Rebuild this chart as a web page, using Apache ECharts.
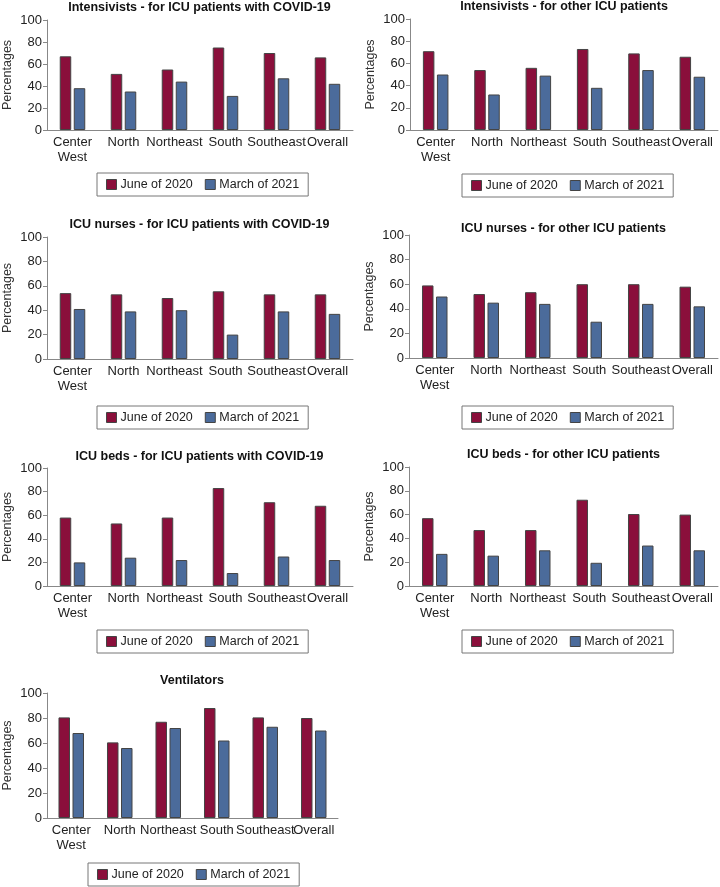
<!DOCTYPE html>
<html lang="en">
<head>
<meta charset="UTF-8">
<title>ICU resources by region</title>
<script src="https://cdn.jsdelivr.net/npm/echarts@6/dist/echarts.min.js"></script>
<style>html,body{margin:0;padding:0;background:#fff}</style>
</head>
<body>
<div id="main" style="width:720px;height:887px"></div>
<script>
// categories and values
var regions = ['Center\nWest', 'North', 'Northeast', 'South', 'Southeast', 'Overall']
var periods = ['June of 2020', 'March of 2021']
var yMin = 0, yMax = 100, yStep = 20

var intensCovidJune = [67, 51, 55, 75, 70, 66]
var intensCovidMarch = [38, 35, 44, 31, 47, 42]
var intensOtherJune = [71, 54, 56, 73, 69, 66]
var intensOtherMarch = [50, 32, 49, 38, 54, 48]
var nursesCovidJune = [54, 53, 50, 55.5, 53, 53]
var nursesCovidMarch = [41, 39, 40, 20, 39, 37]
var nursesOtherJune = [59, 52, 53.5, 60, 60, 58]
var nursesOtherMarch = [50, 45, 44, 29.5, 44, 42]
var bedsCovidJune = [58, 53, 58, 83, 71, 68]
var bedsCovidMarch = [20, 24, 22, 11, 25, 22]
var bedsOtherJune = [57, 47, 47, 72.5, 60.5, 60]
var bedsOtherMarch = [27, 25.5, 30, 19.5, 34, 30]
var ventJune = [80.5, 60.5, 77, 88, 80.5, 80]
var ventMarch = [68, 56, 72, 62, 73, 70]

var panels = [
  { title: 'Intensivists - for ICU patients with COVID-19', june: intensCovidJune, march: intensCovidMarch },
  { title: 'Intensivists - for other ICU patients', june: intensOtherJune, march: intensOtherMarch },
  { title: 'ICU nurses - for ICU patients with COVID-19', june: nursesCovidJune, march: nursesCovidMarch },
  { title: 'ICU nurses - for other ICU patients', june: nursesOtherJune, march: nursesOtherMarch },
  { title: 'ICU beds - for ICU patients with COVID-19', june: bedsCovidJune, march: bedsCovidMarch },
  { title: 'ICU beds - for other ICU patients', june: bedsOtherJune, march: bedsOtherMarch },
  { title: 'Ventilators', june: ventJune, march: ventMarch }
]

// where each small chart sits on the page (pixels)
var boxes = [
  { left: 46, top: 20, width: 307, height: 110, titleTop: 1, legendLeft: 97, legendTop: 173 },
  { left: 410, top: 19, width: 308, height: 111, titleTop: 0, legendLeft: 462, legendTop: 174 },
  { left: 46, top: 237, width: 307, height: 122, titleTop: 218, legendLeft: 97, legendTop: 406 },
  { left: 409, top: 235, width: 309, height: 123, titleTop: 222, legendLeft: 462, legendTop: 406 },
  { left: 46, top: 468, width: 307, height: 118, titleTop: 450, legendLeft: 97, legendTop: 630 },
  { left: 409, top: 467, width: 309, height: 119, titleTop: 448, legendLeft: 462, legendTop: 630 },
  { left: 46, top: 693, width: 292, height: 125, titleTop: 674, legendLeft: 88, legendTop: 863 }
]

var colors = ['#8a0f3b', '#4b6b9b']
var font = 'Liberation Sans, Arial, Helvetica, sans-serif'

var mCharts = echarts.init(document.getElementById('main'))

var option = {
  animation: false,
  backgroundColor: '#fff',
  textStyle: { fontFamily: font },
  title: [], legend: [], grid: [], xAxis: [], yAxis: [], series: []
}

panels.forEach(function (p, i) {
  var b = boxes[i]
  option.title.push({
    text: p.title,
    left: b.left + b.width / 2,
    top: b.titleTop,
    textAlign: 'center',
    padding: 0,
    textStyle: { fontSize: 12.5, fontWeight: 'bold', color: '#111', fontFamily: font }
  })
  option.legend.push({
    data: periods,
    left: b.legendLeft,
    top: b.legendTop,
    orient: 'horizontal',
    icon: 'rect',
    itemWidth: 10,
    itemHeight: 10,
    itemGap: 12,
    padding: [5, 9],
    borderColor: '#777',
    borderWidth: 1,
    selectedMode: false,
    itemStyle: { borderColor: '#444', borderWidth: 1 },
    textStyle: { fontSize: 12.5, color: '#222', fontFamily: font, padding: [0, 0, 0, -1] }
  })
  option.grid.push({ left: b.left, top: b.top, width: b.width, height: b.height })
  option.xAxis.push({
    type: 'category',
    gridIndex: i,
    data: regions,
    axisLine: { lineStyle: { color: '#888', width: 1 } },
    axisTick: { show: false },
    axisLabel: { interval: 0, fontSize: 13, color: '#222', margin: 5, lineHeight: 15, fontFamily: font }
  })
  option.yAxis.push({
    type: 'value',
    gridIndex: i,
    min: yMin,
    max: yMax,
    interval: yStep,
    name: 'Percentages',
    nameLocation: 'middle',
    nameGap: 33,
    nameTextStyle: { fontSize: 12.5, color: '#333', fontFamily: font },
    axisLine: { show: true, lineStyle: { color: '#888', width: 1 } },
    axisTick: { show: true, length: 4, lineStyle: { color: '#888' } },
    splitLine: { show: false },
    axisLabel: { fontSize: 13, color: '#222', margin: 5, fontFamily: font }
  })
  ;[p.june, p.march].forEach(function (vals, k) {
    option.series.push({
      name: periods[k],
      type: 'bar',
      xAxisIndex: i,
      yAxisIndex: i,
      data: vals,
      barWidth: 11.5,
      barGap: '22%',
      itemStyle: { color: colors[k], borderColor: '#444', borderWidth: 1 }
    })
  })
})

mCharts.setOption(option)
</script>
</body>
</html>
